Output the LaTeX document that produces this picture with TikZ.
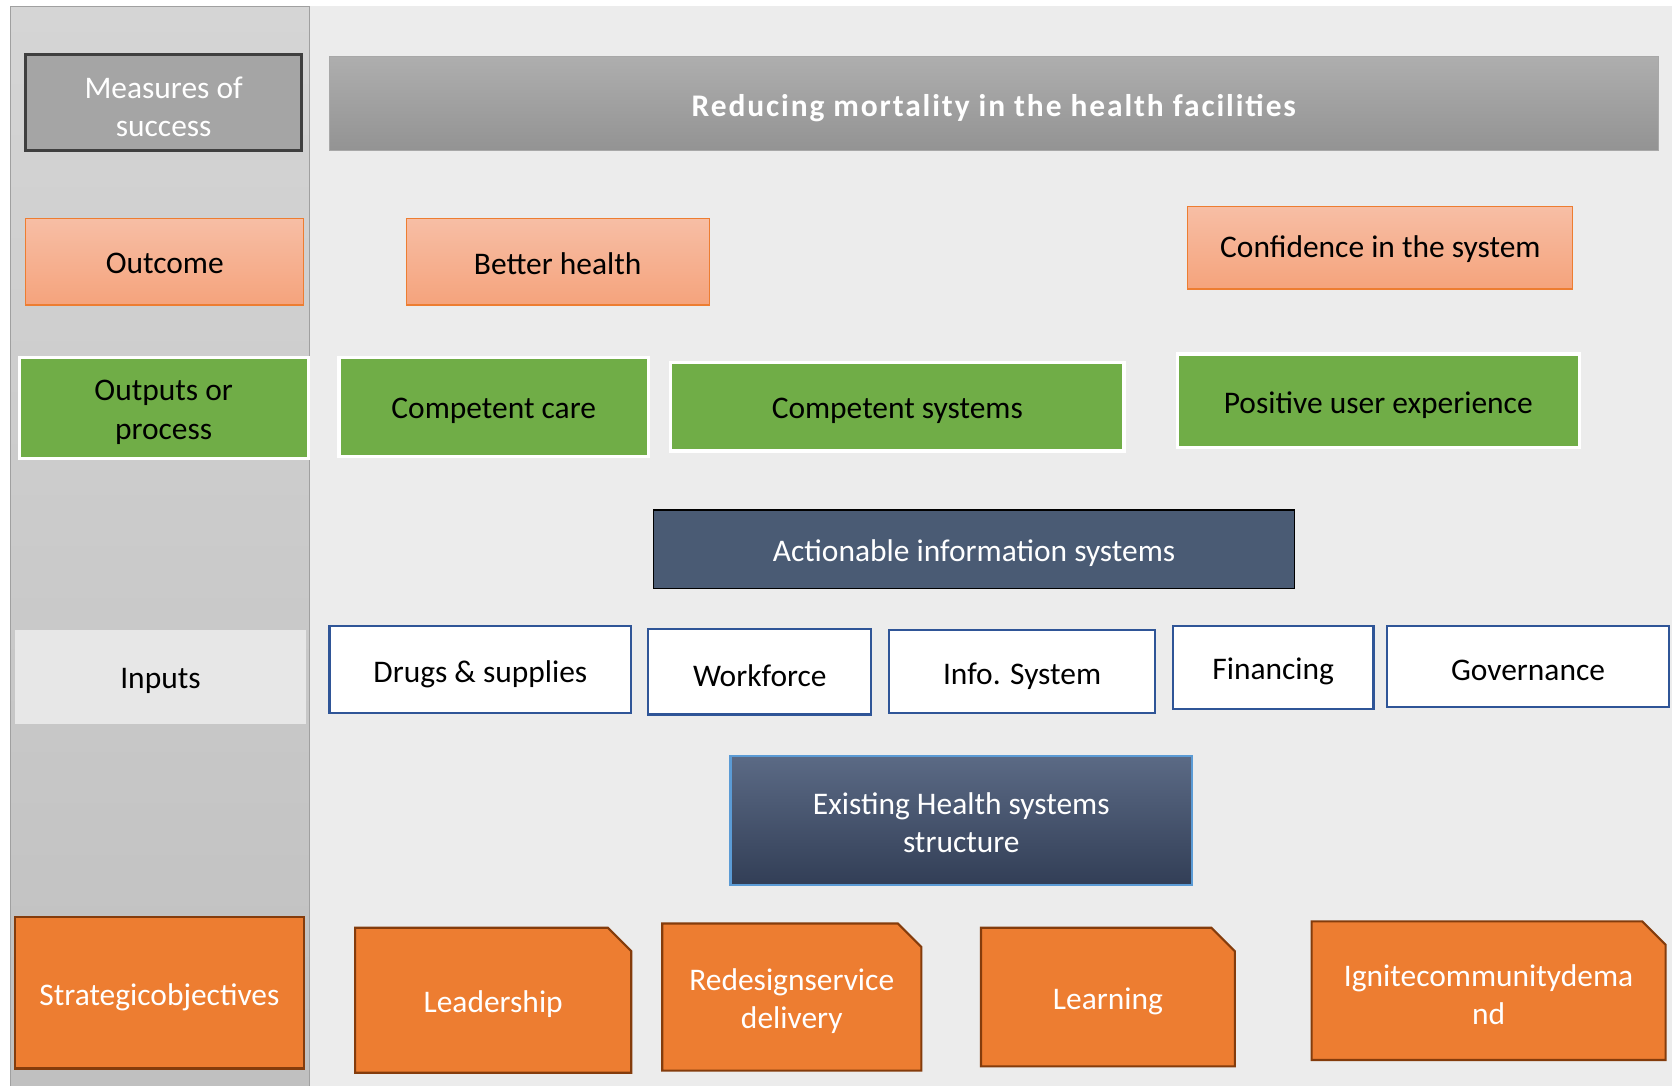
\documentclass[tikz,border=0pt]{standalone}
\usepackage{fontspec}
\setmainfont{Carlito}
\begin{document}
\begin{tikzpicture}[x=1pt,y=-1pt,
  every node/.style={inner sep=0pt, outer sep=0pt, align=center,
    font=\fontsize{29.5}{36}\selectfont},
  boxlabel/.style={yshift=-4pt},
  measurebox/.style={fill=mgrey, draw=mdark, line width=2.5pt},
  measurebox text/.style={boxlabel, text=white},
  titlebar/.style={top color=tgtop, bottom color=tgbot, draw=tgline, line width=1pt},
  titlebar text/.style={boxlabel, text=white,
    font=\fontsize{29.5}{36}\selectfont\bfseries\addfontfeatures{LetterSpace=6}},
  outcomebox/.style={top color=octop, bottom color=ocbot, draw=ocline, line width=1pt},
  outcomebox text/.style={boxlabel, yshift=2.5pt, text=black},
  outputbox/.style={fill=gfill, draw=white, line width=3pt},
  outputbox text/.style={boxlabel, text=black},
  actionbox/.style={fill=slate, draw=black, line width=1.5pt},
  actionbox text/.style={boxlabel, text=white},
  labelbox/.style={fill=inlabel},
  labelbox text/.style={boxlabel, text=black},
  inputbox/.style={fill=white, draw=inline, line width=2pt},
  inputbox text/.style={boxlabel, text=black},
  structbox/.style={top color=sttop, bottom color=stbot, draw=stline, line width=2pt},
  structbox text/.style={boxlabel, yshift=2pt, text=white},
  stratbox/.style={fill=orng, draw=obrown, line width=2pt},
  stratbox text/.style={boxlabel, text=white},
  snipstyle/.style={fill=orng, draw=obrown, line width=2pt},
  sniptext/.style={boxlabel, text=white}
]
\definecolor{mgrey}{HTML}{A5A5A5}
\definecolor{mdark}{HTML}{3F3F3F}
\definecolor{tgtop}{HTML}{AEAEAE}
\definecolor{tgbot}{HTML}{939393}
\definecolor{tgline}{HTML}{A8A8A8}
\definecolor{octop}{HTML}{F7BEA5}
\definecolor{ocbot}{HTML}{F5A37C}
\definecolor{ocline}{HTML}{ED7D31}
\definecolor{gfill}{HTML}{70AD47}
\definecolor{slate}{HTML}{4A5B74}
\definecolor{inlabel}{HTML}{E7E7E7}
\definecolor{inline}{HTML}{2F5597}
\definecolor{sttop}{HTML}{5B6A85}
\definecolor{stbot}{HTML}{323E56}
\definecolor{stline}{HTML}{5B9BD5}
\definecolor{orng}{HTML}{ED7D31}
\definecolor{obrown}{HTML}{843C0C}
\definecolor{panetop}{HTML}{D5D5D5}
\definecolor{panebot}{HTML}{C0C0C0}
\definecolor{paneline}{HTML}{A0A0A0}
\definecolor{bgright}{HTML}{ECECEC}

% box given by its corners (x1,y1)-(x2,y2), its text set a little low
\newcommand\placebox[7][]{%
  \node[#1, minimum width={(#5-#3)*1pt}, minimum height={(#6-#4)*1pt}]
    (#2) at ({(#3+#5)/2},{(#4+#6)/2}) {};
  \node[#1 text] (#2-text) at (#2.center) {#7};}
% rectangle with its top right corner snipped off
\newcommand\snipbox[6]{%
  \filldraw[snipstyle] (#2,#3) -- ({#4-22},#3) -- (#4,{#3+22}) -- (#4,#5) -- (#2,#5) -- cycle;
  \node[sniptext] (#1) at ({(#2+#4)/2},{(#3+#5)/2}) {#6};}

% canvas
\useasboundingbox (0,0) rectangle (1568,1018);
\fill[white] (0,0) rectangle (1568,1018);
\fill[bgright] (290,6) rectangle (1568,1018);
\shade[top color=panetop, bottom color=panebot] (10,6) rectangle (290,1018);
\draw[paneline, line width=1pt] (10,1018) -- (10,6) -- (290,6) -- (290,1018);

% level labels
\placebox[measurebox]{measures}{24}{51}{283}{141}{Measures of\\success}
\placebox[outcomebox]{outcome}{24}{205}{285}{286}{Outcome}
\placebox[outputbox]{outputs}{18}{335}{289}{430}{Outputs or\\process}
\placebox[labelbox]{inputs}{14}{591}{287}{679}{Inputs}
\placebox[stratbox]{strategic}{14}{860}{285}{1002}{Strategicobjectives}

% goal
\placebox[titlebar]{goal}{309}{53}{1555}{141}{Reducing mortality in the health facilities}

% outcomes
\placebox[outcomebox]{health}{381}{205}{665}{286}{Better health}
\placebox[outcomebox]{confidence}{1114}{194}{1475}{271}{Confidence in the system}

% outputs
\placebox[outputbox]{care}{318}{335}{608}{428}{Competent care}
\placebox[outputbox]{systems}{629}{340}{1054}{423}{Competent systems}
\placebox[outputbox]{userexp}{1104}{332}{1481}{420}{Positive user experience}

\placebox[actionbox]{actionable}{613}{478}{1214}{552}{Actionable information systems}

% inputs
\placebox[inputbox]{drugs}{309}{587}{592}{669}{Drugs \& supplies}
\placebox[inputbox]{workforce}{608}{590}{817}{670}{Workforce}
\placebox[inputbox]{infosys}{834}{591}{1083}{669}{Info. System}
\placebox[inputbox]{financing}{1100}{587}{1288}{665}{Financing}
\placebox[inputbox]{governance}{1301}{587}{1565}{663}{Governance}

\placebox[structbox]{existing}{685}{709}{1118}{830}{Existing Health systems\\structure}

% strategic objectives
\snipbox{leadership}{333}{870}{592}{1006}{Leadership}
\snipbox{redesign}{621}{866}{864}{1004}{Redesignservice\\delivery}
\snipbox{learning}{920}{870}{1158}{1000}{Learning}
\snipbox{ignite}{1230}{864}{1562}{994}{Ignitecommunitydema\\nd}
\end{tikzpicture}
\end{document}
